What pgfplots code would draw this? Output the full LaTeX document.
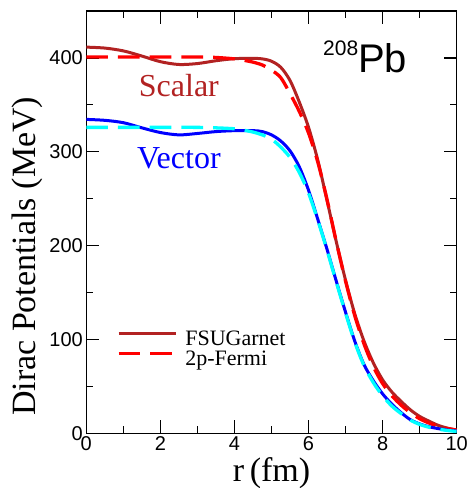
\documentclass[border=0pt]{standalone}
\usepackage{pgfplots}
\pgfplotsset{compat=1.18}
\usepackage{fontspec}
\setmainfont{Liberation Serif}
\newfontfamily\sansf{Liberation Sans}
\definecolor{fbrown}{RGB}{178,34,34}
\definecolor{fcyan}{RGB}{0,255,255}
\pgfplotstableread{
r V
0 411.5
0.5 410.5
1.0 407.5
1.5 402
2.0 396
2.5 393
3.0 394
3.5 397
4.0 399.2
4.5 399.5
4.75 399
5.0 396.5
5.25 390
5.5 376
5.75 353
6.0 326
6.25 291
6.5 248
6.75 204
7.0 163
7.25 127
7.5 98
7.75 75
8.0 57
8.25 44
8.5 34
8.75 25
9.0 18
9.25 13
9.5 8.5
9.75 5.5
10 3.5
}\scalarfsu
\pgfplotstableread{
r V
0 401
1 401
2 401
3 401
3.5 400.5
4.0 399
4.25 397.5
4.5 395.5
4.75 392.5
5.0 387
5.25 379
5.5 362
5.75 343
6.0 320
6.25 289
6.5 249
6.75 204
7.0 162
7.25 125
7.5 95
7.75 71
8.0 53
8.25 40
8.5 30
8.75 22
9.0 15.5
9.25 11
9.5 7.5
9.75 5
10 3.5
}\scalarfermi
\pgfplotstableread{
r V
0 334.5
0.5 333.5
1.0 331
1.5 325.5
2.0 320.5
2.5 318
3.0 319.5
3.5 321.5
4.0 322.5
4.5 322.5
4.75 321.5
5.0 318
5.25 311.5
5.5 301
5.75 284
6.0 259
6.25 228
6.5 196
6.75 162
7.0 129
7.25 98
7.5 73
7.75 56
8.0 42
8.25 31
8.5 22
8.75 14.5
9.0 10
9.25 7
9.5 5
9.75 3.5
10 2.5
}\vectorfsu
\pgfplotstableread{
r V
0 326
1 326
2 326
3 326
3.5 325.5
4.0 324.5
4.25 323
4.5 321
4.75 318
5.0 313.5
5.25 305
5.5 294
5.75 278
6.0 256
6.25 227
6.5 195
6.75 161
7.0 128
7.25 97
7.5 72
7.75 54
8.0 40
8.25 29
8.5 21
8.75 14
9.0 9.5
9.25 6.5
9.5 4.5
9.75 3
10 2
}\vectorfermi
\begin{document}
\begin{tikzpicture}
\begin{axis}[
  at={(0pt,0pt)}, anchor=south west,
  scale only axis,
  width=370.4pt, height=422.3pt,
  xmin=0, xmax=10, ymin=0, ymax=450,
  xtick={0,2,...,10}, ytick={0,100,...,400},
  minor x tick num=1, minor y tick num=1,
  tick align=inside,
  major tick length=13pt, minor tick length=7pt,
  axis line style={line width=1.5pt},
  every tick/.style={line width=1.3pt, black},
  /pgf/number format/assume math mode=true,
  ticklabel style={font=\fontsize{20}{20}\sansf},
  xlabel={r\,(fm)}, ylabel={Dirac Potentials (MeV)},
  label style={font=\fontsize{34}{34}\selectfont},
  xlabel style={at={(axis description cs:0.5,-0.115)}, anchor=base},
  ylabel style={at={(axis description cs:-0.136,0.419)}, anchor=base, rotate=0},
  legend style={draw=none, fill=none, inner sep=0pt, outer sep=0pt,
    at={(axis cs:0.83,109.4)}, anchor=north west,
    font=\fontsize{22}{22}\selectfont,
    nodes={inner sep=0pt, font=\fontsize{22}{22}\selectfont, text height=15pt, text depth=5pt},
    row sep=0pt, column sep=8pt},
  legend cell align=left,
  legend image code/.code={\draw[#1] (0pt,7pt) -- (57pt,7pt);},
]
\addplot[fbrown, line width=3pt, smooth] table[x=r,y=V]{\scalarfsu};
\addlegendentry{FSUGarnet}
\addplot[red, line width=3.3pt, smooth, dash pattern=on 21.7pt off 10pt] table[x=r,y=V]{\scalarfermi};
\addlegendentry{2p-Fermi}
\addplot[blue, line width=3pt, smooth, forget plot] table[x=r,y=V]{\vectorfsu};
\addplot[fcyan, line width=3.3pt, smooth, dash pattern=on 21.7pt off 10pt, forget plot] table[x=r,y=V]{\vectorfermi};
\node[fbrown, font=\fontsize{32}{32}\selectfont] at (axis cs:2.5,371) {Scalar};
\node[blue, font=\fontsize{32}{32}\selectfont] at (axis cs:2.5,293.5) {Vector};
\node[anchor=base west, inner sep=0pt] at (axis cs:6.39,385) {{\fontsize{21}{21}\sansf\raisebox{17pt}{208}}{\fontsize{40}{40}\sansf Pb}};
\end{axis}
\pgfresetboundingbox
\path (-86.3pt,-54.7pt) rectangle (382.7pt,433.3pt);
\end{tikzpicture}
\end{document}
